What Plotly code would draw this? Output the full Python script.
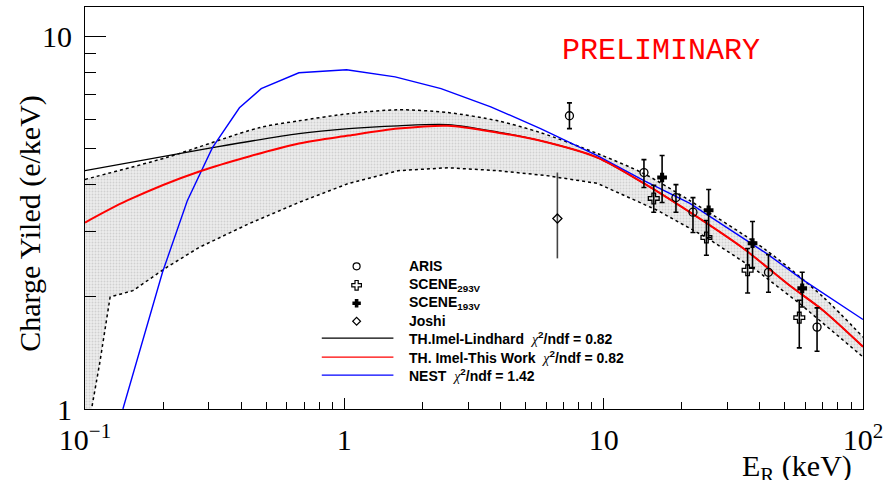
import plotly.graph_objects as go

# ---- model curves: recoil energy (keV) vs charge yield (e/keV) ----
nest_e = [0.13, 0.140, 0.199, 0.248, 0.31, 0.394, 0.478, 0.668, 1.02, 1.57, 2.36, 3.67,
          5.71, 9.45, 14.3, 21.5, 42.4, 58.3, 100]
nest_y = [0.85, 1.0, 2.33, 3.63, 5.04, 6.45, 7.26, 8.01, 8.16, 7.81, 7.26, 6.49,
          5.67, 4.80, 4.11, 3.57, 2.62, 2.23, 1.74]

imel_this_e = [0.1, 0.145, 0.276, 0.668, 1.04, 1.61, 2.51, 3.91, 5.71, 9.45, 14.3,
               21.5, 34.6, 52.0, 70.2, 100]
imel_this_y = [3.17, 3.63, 4.35, 5.17, 5.43, 5.67, 5.77, 5.53, 5.26, 4.74, 4.04,
               3.38, 2.70, 2.15, 1.84, 1.47]

imel_lind_e = [0.1, 0.31, 0.668, 1.04, 1.61, 2.51, 3.91, 5.71, 9.45, 14.3, 21.5,
               34.6, 52.0, 70.2, 100]
imel_lind_y = [4.37, 5.04, 5.50, 5.67, 5.77, 5.81, 5.55, 5.26, 4.74, 4.04, 3.38,
               2.70, 2.15, 1.84, 1.47]

# uncertainty band of the model
band_up_e = [0.1, 0.206, 0.469, 0.668, 1.04, 1.61, 2.51, 3.91, 5.71, 9.45, 14.3,
             21.5, 42.4, 70.2, 100]
band_up_y = [4.14, 4.74, 5.70, 5.95, 6.22, 6.37, 6.26, 5.95, 5.53, 4.86, 4.29,
             3.63, 2.67, 2.00, 1.56]
band_lo_e = [0.1, 0.106, 0.114, 0.125, 0.153, 0.206, 0.276, 0.43, 0.668, 1.04, 1.61,
             2.51, 3.91, 6.0, 9.45, 16.1, 24.9, 38.8, 57.0, 100]
band_lo_y = [0.85, 1.0, 1.33, 2.00, 2.08, 2.40, 2.72, 3.15, 3.59, 4.04, 4.37,
             4.45, 4.37, 4.24, 4.04, 3.42, 2.89, 2.36, 1.92, 1.38]

# ---- measurements ----
aris_e = [7.38, 14.3, 19.0, 22.1, 43.2, 66.5]
aris_y = [6.14, 4.32, 3.70, 3.38, 2.33, 1.66]
aris_up = [0.51, 0.36, 0.31, 0.32, 0.27, 0.21]
aris_dn = [0.47, 0.38, 0.32, 0.40, 0.27, 0.23]

scene293_e = [15.6, 24.9, 35.9, 56.8]
scene293_y = [3.68, 2.89, 2.36, 1.76]
scene293_up = [0.31, 0.32, 0.34, 0.20]
scene293_dn = [0.30, 0.30, 0.31, 0.30]

scene193_e = [16.8, 25.4, 37.5, 58.3]
scene193_y = [4.19, 3.42, 2.79, 2.11]
scene193_up = [0.61, 0.47, 0.40, 0.22]
scene193_dn = [0.60, 0.53, 0.39, 0.23]

joshi_e = [6.63]
joshi_y = [3.25]
joshi_up = [1.07]
joshi_dn = [0.71]

# tick labels
x_tickvals = [0.1, 1, 10, 100]
x_ticktext = ["10<sup>\u22121</sup>", "1", "10", "10<sup>2</sup>"]
y_tickvals = [1, 10]
y_ticktext = ["1", "10"]

# legend entries
legend_points = ["ARIS", "SCENE<sub>293V</sub>", "SCENE<sub>193V</sub>", "Joshi"]
chi = '<span style="font-family:Liberation Serif;font-weight:normal"><i>\u03c7</i></span><sup>2</sup>/ndf'
legend_lines = [f"TH.Imel-Lindhard  {chi} = 0.82",
                f"TH. Imel-This Work  {chi} = 0.82",
                f"NEST  {chi} = 1.42"]

W, H = 889, 480
L, R, T, B = 85, 22, 6, 71
PW, PH = W - L - R, H - T - B


def px(xp):
    return (xp - L) / PW


def py(yp):
    return (H - B - yp) / PH


SERIF = "Liberation Serif"
SANS = "Liberation Sans"

fig = go.Figure()

# band: lower edge then upper edge filled down to it
fig.add_trace(go.Scatter(x=band_lo_e, y=band_lo_y, mode="lines",
                         line=dict(color="black", width=1.5, dash="dot"),
                         showlegend=False, hoverinfo="skip"))
fig.add_trace(go.Scatter(x=band_up_e, y=band_up_y, mode="lines",
                         line=dict(color="black", width=1.5, dash="dot", shape="spline", smoothing=0.8),
                         fill="tonexty", fillcolor="rgba(0,0,0,0)",
                         fillpattern=dict(shape=".", fgcolor="#b4b4b4", bgcolor="#ececec",
                                          size=3, solidity=0.3),
                         showlegend=False, hoverinfo="skip"))

fig.add_trace(go.Scatter(x=imel_lind_e, y=imel_lind_y, mode="lines",
                         line=dict(color="black", width=1.3, shape="spline", smoothing=0.8),
                         showlegend=False))
fig.add_trace(go.Scatter(x=nest_e, y=nest_y, mode="lines",
                         line=dict(color="#0000ff", width=1.4),
                         showlegend=False))
fig.add_trace(go.Scatter(x=imel_this_e, y=imel_this_y, mode="lines",
                         line=dict(color="#ff0000", width=2, shape="spline", smoothing=0.8),
                         showlegend=False))


def points(xs, ys, up, dn, symbol, size, cap, ecolor="black"):
    fig.add_trace(go.Scatter(
        x=xs, y=ys, mode="markers",
        marker=dict(symbol=symbol, size=size, color="black",
                    line=dict(color="black", width=1.3)),
        error_y=dict(type="data", symmetric=False, array=up, arrayminus=dn,
                     color=ecolor, thickness=1.6, width=cap),
        showlegend=False))


points(joshi_e, joshi_y, joshi_up, joshi_dn, "diamond-open", 7, 0, "#444444")
points(scene293_e, scene293_y, scene293_up, scene293_dn, "cross-open", 9, 2.5)
points(scene193_e, scene193_y, scene193_up, scene193_dn, "cross", 7, 2.5)
points(aris_e, aris_y, aris_up, aris_dn, "circle-open", 8, 2.5)

# ---- legend (drawn on an overlay axis spanning the plot area) ----
row_y = [266, 285, 303, 321, 338, 357, 375]
sym = [("circle-open", 7), ("cross-open", 8), ("cross", 6), ("diamond-open", 6)]
for i, (s, sz) in enumerate(sym):
    fig.add_trace(go.Scatter(x=[px(358)], y=[py(row_y[i])], xaxis="x2", yaxis="y2",
                             mode="markers",
                             marker=dict(symbol=s, size=sz, color="black",
                                         line=dict(color="black", width=1.2)),
                             showlegend=False, hoverinfo="skip"))

annotations = []
for i, txt in enumerate(legend_points + legend_lines):
    annotations.append(dict(x=px(409), y=py(row_y[i]), xref="paper", yref="paper",
                            text=f"<b>{txt}</b>", showarrow=False, xanchor="left",
                            yanchor="middle", font=dict(family=SANS, size=14, color="black")))

shapes = []
for i, c in enumerate(["black", "#ff0000", "#0000ff"]):
    yy = py(row_y[4 + i])
    shapes.append(dict(type="line", xref="paper", yref="paper", x0=px(323), x1=px(395),
                       y0=yy, y1=yy, line=dict(color=c, width=1.3)))

annotations.append(dict(x=px(664), y=py(50), xref="paper", yref="paper",
                        text="PRELIMINARY", showarrow=False, xanchor="center", yanchor="middle",
                        font=dict(family="Liberation Mono", size=30, color="#ff0000")))
annotations.append(dict(x=px(30), y=py(223), xref="paper", yref="paper",
                        text="Charge Yiled (e/keV)", showarrow=False, textangle=-90,
                        xanchor="center", yanchor="middle",
                        font=dict(family=SERIF, size=30, color="black")))
annotations.append(dict(x=px(858), y=py(447), xref="paper", yref="paper",
                        text="E<sub>R</sub> (keV)", showarrow=False,
                        xanchor="right", yanchor="top",
                        font=dict(family=SERIF, size=30, color="black")))

axis_common = dict(type="log", showline=True, linecolor="black", linewidth=1.2,
                   mirror=True, ticks="inside", tickcolor="black", tickwidth=1,
                   showgrid=False, zeroline=False, tickmode="array",
                   tickfont=dict(family=SERIF, size=30, color="black"))

fig.update_layout(
    width=W, height=H,
    margin=dict(l=L, r=R, t=T, b=B),
    paper_bgcolor="white", plot_bgcolor="white",
    showlegend=False,
    xaxis=dict(axis_common, range=[-1, 2], tickvals=x_tickvals, ticktext=x_ticktext,
               ticklen=11, ticklabelstandoff=4,
               minor=dict(ticks="inside", ticklen=7, tickcolor="black", tickwidth=1,
                          tickvals=[0.2, 0.3, 0.4, 0.5, 0.6, 0.7, 0.8, 0.9,
                                    2, 3, 4, 5, 6, 7, 8, 9,
                                    20, 30, 40, 50, 60, 70, 80, 90])),
    yaxis=dict(axis_common, range=[0, 1.0804], tickvals=y_tickvals, ticktext=y_ticktext,
               ticklen=21, ticklabelstandoff=6,
               minor=dict(ticks="inside", ticklen=11, tickcolor="black", tickwidth=1,
                          tickvals=[2, 3, 4, 5, 6, 7, 8, 9])),
    xaxis2=dict(range=[0, 1], overlaying="x", visible=False, fixedrange=True),
    yaxis2=dict(range=[0, 1], overlaying="y", visible=False, fixedrange=True),
    annotations=annotations,
    shapes=shapes,
)

fig.write_html("out.html")
